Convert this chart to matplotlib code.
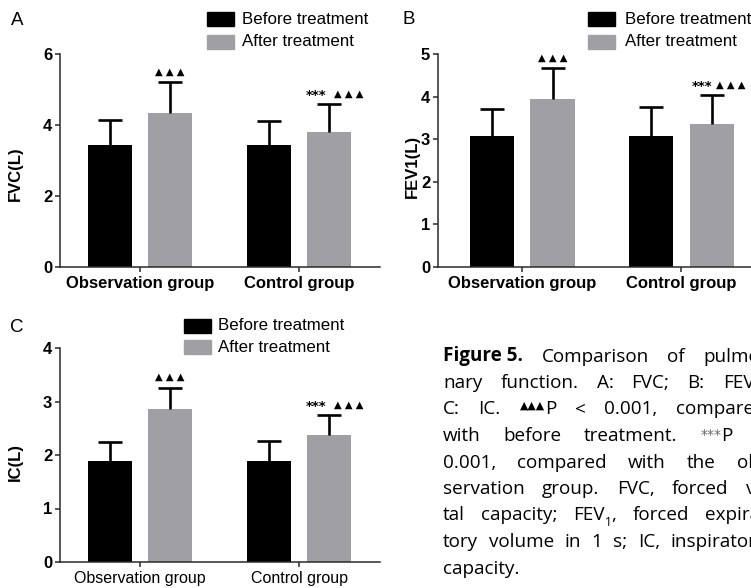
import re
import matplotlib
matplotlib.use('Agg')
import matplotlib.pyplot as plt
from matplotlib.patches import Rectangle

W, H, DPI = 751, 588, 100

# ---------------- data ----------------
groups = ['Observation group', 'Control group']
series = ['Before treatment', 'After treatment']

fvc_before = [3.43, 3.43]
fvc_before_sd = [0.71, 0.69]
fvc_after = [4.33, 3.79]
fvc_after_sd = [0.89, 0.80]

fev1_before = [3.08, 3.08]
fev1_before_sd = [0.64, 0.67]
fev1_after = [3.95, 3.35]
fev1_after_sd = [0.71, 0.69]

ic_before = [1.89, 1.89]
ic_before_sd = [0.36, 0.38]
ic_after = [2.86, 2.375]
ic_after_sd = [0.40, 0.375]

fvc_ticks = [0, 2, 4, 6]
fev1_ticks = [0, 1, 2, 3, 4, 5]
ic_ticks = [0, 1, 2, 3, 4]

# significance marks on the "after" bars: (stars, triangles)
marks = [('', '▲ ▲ ▲'), ('***', '▲ ▲ ▲')]

caption_lines = [
    ["{b}Figure 5.", "Comparison", "of", "pulmo-"],
    ["nary", "function.", "A:", "FVC;", "B:", "FEV{_1};"],
    ["C:", "IC.", "{^▲▲▲}P", "<", "0.001,", "compared"],
    ["with", "before", "treatment.", "{*}P", "<"],
    ["0.001,", "compared", "with", "the", "ob-"],
    ["servation", "group.", "FVC,", "forced", "vi-"],
    ["tal", "capacity;", "FEV{_1},", "forced", "expira-"],
    ["tory", "volume", "in", "1", "s;", "IC,", "inspiratory"],
    ["capacity."],
]

# ---------------- style ----------------
plt.rcParams['font.family'] = ['Liberation Sans', 'DejaVu Sans']
BLACK = '#000000'
GRAY = '#a0a0a4'
AXC = '#2a2a2a'

fig = plt.figure(figsize=(W / DPI, H / DPI), dpi=DPI)


def fx(x):
    return x / W


def fy(y):
    return 1 - y / H


def make_axes(l, r, t, b):
    return fig.add_axes([fx(l), fy(b), (r - l) / W, (b - t) / H])


def draw_panel(ax, before, bsd, after, asd, ticks, ylabel, xlim, label_xy,
               bold_x=True, spaced=True):
    xs = [0, 1]
    bw = 0.277
    off = 0.189
    xb = [x - off for x in xs]
    xa = [x + off for x in xs]
    ax.bar(xb, before, width=bw, color=BLACK, zorder=2)
    ax.bar(xa, after, width=bw, color=GRAY, zorder=2)
    for xx, m, s in list(zip(xb, before, bsd)) + list(zip(xa, after, asd)):
        _, caps, _ = ax.errorbar([xx], [m], yerr=[[0], [s]], fmt='none',
                                 ecolor='black', elinewidth=1.9, capsize=8.5,
                                 capthick=1.9, zorder=3)
        caps[0].set_visible(False)  # no cap at the bar top
    ax.set_ylim(0, ticks[-1])
    ax.set_xlim(*xlim)
    ax.set_yticks(ticks)
    ax.set_xticks(xs)
    ax.set_xticklabels(groups, fontsize=12 if bold_x else 11.5,
                       fontweight='bold' if bold_x else 'normal')
    for lab in ax.get_yticklabels():
        lab.set_fontweight('bold')
        lab.set_fontsize(12)
    for s in ['top', 'right']:
        ax.spines[s].set_visible(False)
    for s in ['left', 'bottom']:
        ax.spines[s].set_linewidth(1.1)
        ax.spines[s].set_color(AXC)
    ax.tick_params(axis='y', length=3.6, width=1.1, color=AXC, pad=2)
    ax.tick_params(axis='x', length=3.6, width=1.1, color=AXC, pad=3)
    ax.set_ylabel(ylabel, fontsize=12, fontweight='bold', ha='center', va='center')
    ax.yaxis.set_label_coords(*label_xy)
    # significance marks
    for i, (st, tri) in enumerate(marks):
        top = after[i] + asd[i]
        if st:
            d_st, d_tr = (-13, 20) if spaced else (-9, 19)
            ax.annotate(st, xy=(xa[i], top), xytext=(d_st * 0.72, 6.0),
                        textcoords='offset points', ha='center', va='center',
                        fontsize=9.5, family='DejaVu Sans', fontweight='bold')
            ax.annotate(tri, xy=(xa[i], top), xytext=(d_tr * 0.72, 7.5),
                        textcoords='offset points', ha='center', va='center',
                        fontsize=7.2, family='DejaVu Sans')
        else:
            ax.annotate(tri, xy=(xa[i], top), xytext=(0, 7.5),
                        textcoords='offset points', ha='center', va='center',
                        fontsize=7.2, family='DejaVu Sans')


axA = make_axes(60, 380, 54, 267)
draw_panel(axA, fvc_before, fvc_before_sd, fvc_after, fvc_after_sd, fvc_ticks,
           'FVC(L)', (-0.503, 1.509), (-0.141, 0.44))
axB = make_axes(438, 751, 54, 267)
draw_panel(axB, fev1_before, fev1_before_sd, fev1_after, fev1_after_sd, fev1_ticks,
           'FEV1(L)', (-0.531, 1.437), (-0.083, 0.474), spaced=False)
axC = make_axes(60, 380, 348, 562)
draw_panel(axC, ic_before, ic_before_sd, ic_after, ic_after_sd, ic_ticks,
           'IC(L)', (-0.503, 1.509), (-0.141, 0.467), bold_x=False)

# panel letters
for s, x, y in [('A', 11, 25), ('B', 402, 24), ('C', 10, 332)]:
    fig.text(fx(x), fy(y), s, fontsize=13.5, ha='left', va='baseline')


# legends
def legend(x, y1, y2, tx):
    for yy, c, name in [(y1, BLACK, series[0]), (y2, GRAY, series[1])]:
        fig.add_artist(Rectangle((fx(x), fy(yy + 7)), 27 / W, 14 / H,
                                 transform=fig.transFigure, color=c))
        fig.text(fx(tx), fy(yy), name, fontsize=12.2, ha='left', va='center')


legend(207, 19, 42, 242)
legend(588, 19, 42, 625)
legend(184, 326, 347, 218)

# ---------------- caption (justified) ----------------
renderer = fig.canvas.get_renderer()
CAP_FONT = ['Open Sans', 'DejaVu Sans']
CAP_SIZE = 13.6
LEFT, RIGHT = 443, 766
BASE0, LSTEP = 361.5, 26.5


def parse(word):
    segs = []
    pos = 0
    for m in re.finditer(r'\{(b|_|\^|\*)(.*?)(\}|$)', word):
        if m.start() > pos:
            segs.append(('n', word[pos:m.start()]))
        kind = m.group(1)
        txt = m.group(2)
        if kind == 'b':
            txt = word[m.start() + 3:]
            segs.append(('b', txt))
            pos = len(word)
            break
        if kind == '*':
            txt = '***'
        segs.append((kind, txt))
        pos = m.end()
    if pos < len(word):
        segs.append(('n', word[pos:]))
    return segs


def make_word(word, y):
    arts = []
    for kind, txt in parse(word):
        kw = dict(ha='left', va='baseline', family=CAP_FONT, fontsize=CAP_SIZE)
        dy = 0
        if kind == 'b':
            kw['fontweight'] = 'bold'
        elif kind == '_':
            kw['fontsize'] = 8.5
            dy = 5
        elif kind == '^':
            kw['fontsize'] = 7.8
            kw['family'] = ['DejaVu Sans']
            dy = -6
        elif kind == '*':
            kw['fontsize'] = 10
            kw['family'] = ['DejaVu Sans']
            kw['color'] = '#666666'
            dy = -2
        t = fig.text(0, fy(y + dy), txt, **kw)
        w = t.get_window_extent(renderer).width
        arts.append((t, w, dy))
    return arts


for li, words in enumerate(caption_lines):
    y = BASE0 + li * LSTEP
    built = [make_word(w, y) for w in words]
    widths = [sum(a[1] for a in b) for b in built]
    if len(words) > 1 and li < len(caption_lines) - 1:
        gap = (RIGHT - LEFT - sum(widths)) / (len(words) - 1)
    else:
        gap = 5
    x = LEFT
    for b, wd in zip(built, widths):
        xx = x
        for t, w, dy in b:
            t.set_x(fx(xx))
            xx += w
        x += wd + gap

fig.savefig('out.png', dpi=DPI)
